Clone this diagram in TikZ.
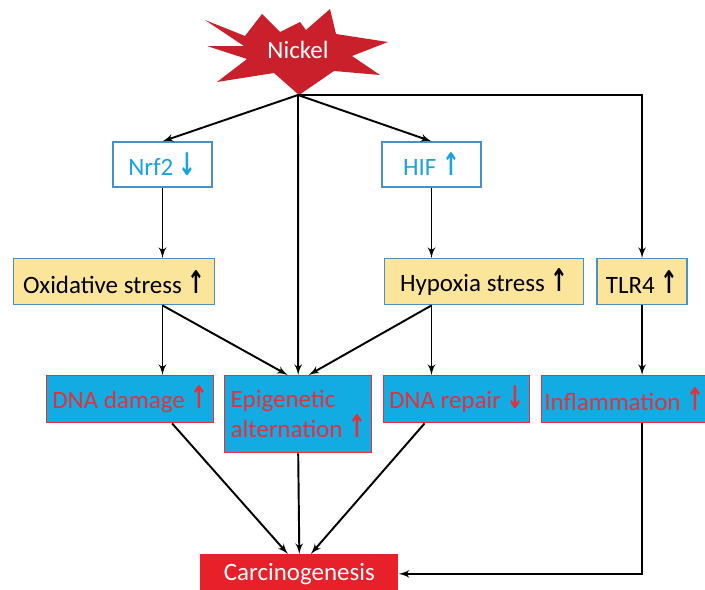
\documentclass[tikz,border=0pt]{standalone}
\usepackage{fontspec}
\setmainfont{Carlito}
\newfontfamily\symfont{DejaVu Sans}
\usepackage{xcolor}
\usetikzlibrary{arrows, positioning, calc}

\definecolor{nickelred}{HTML}{C9202B}
\definecolor{boxblue}{HTML}{4A8FC6}
\definecolor{signalcyan}{HTML}{1BA3DE}
\definecolor{stressyellow}{HTML}{FBE59B}
\definecolor{effectfill}{HTML}{12ACE3}
\definecolor{effectred}{HTML}{E5303A}
\definecolor{carcred}{HTML}{E8202A}

\newcommand{\uparr}{{\symfont\bfseries\scalebox{0.85}[1.25]{↑}}}
\newcommand{\downarr}{{\symfont\bfseries\scalebox{0.85}[1.25]{↓}}}

\begin{document}
\begin{tikzpicture}[x=0.02cm, y=-0.02cm, font=\fontsize{14.2}{17}\selectfont]
\tikzstyle{signal} = [rectangle, draw=boxblue, fill=white, text=signalcyan, minimum width=1.98cm, minimum height=0.9cm, inner sep=0pt, line width=0.8pt]
\tikzstyle{stressbox} = [rectangle, draw=boxblue, fill=stressyellow, text=black, minimum height=0.92cm, inner sep=0pt, line width=0.8pt]
\tikzstyle{effect} = [rectangle, draw=effectred, fill=effectfill, text=effectred, minimum height=0.94cm, inner sep=0pt, line width=0.8pt]
\tikzstyle{outcome} = [rectangle, fill=carcred, text=white, minimum width=3.96cm, minimum height=0.78cm, inner sep=0pt]
\tikzstyle{line} = [draw, -latex', line width=1.1pt, black]

\useasboundingbox (0,0) rectangle (705,589);

% nickel burst
\fill[nickelred] (205,20) -- (245,36) -- (262,14) -- (280,32) -- (300,22) -- (306,30)
  -- (330,9) -- (336,34) -- (388,42) -- (352,56) -- (380,75) -- (334,71)
  -- (299,95) -- (274,73) -- (217,82) -- (247,59) -- (207,46) -- (244,46) -- cycle;
\node (nickel) [text=white] at (298,50) {Nickel};
\coordinate (hub) at (298,95);

\node (nrf2) [signal] at (162.5,164.5) {Nrf2 \downarr};
\node (hif) [signal] at (431.5,164.5) {HIF \uparr};

\node (oxstress) [stressbox, minimum width=4.02cm, anchor=north west] at (13,258) {Oxidative stress \uparr};
\node (hypoxia) [stressbox, minimum width=3.98cm, anchor=north west] at (384,258) {Hypoxia stress \uparr};
\node (tlr4) [stressbox, minimum width=1.8cm, right=0.24cm of hypoxia] {TLR4 \uparr};

\node (dnadmg) [effect, minimum width=3.34cm, anchor=north west] at (46,375) {DNA damage \uparr};
\node (epi) [effect, minimum width=2.94cm, minimum height=1.54cm, anchor=north west, align=left] at (224,375) {Epigenetic\\alternation \uparr};
\node (repair) [effect, minimum width=2.92cm, anchor=north west] at (383,375) {DNA repair \downarr};
\node (inflam) [effect, minimum width=3.3cm, anchor=north west] at (541,375) {Inflammation \uparr};

\node (carc) [outcome, anchor=north west] at (200,554) {Carcinogenesis};

\draw [line] (hub) -- (nrf2.north);
\draw [line] (hub) -- (hif.north);
\draw [line] (hub) -- (epi.north);
\draw [line] (hub) -| (tlr4.north);
\draw [line] (nrf2.south) -- (nrf2.south |- oxstress.north);
\draw [line] (hif.south) -- (hif.south |- hypoxia.north);
\draw [line] (nrf2.south |- oxstress.south) -- (nrf2.south |- dnadmg.north);
\draw [line] (nrf2.south |- oxstress.south) -- (epi.105);
\draw [line] (hif.south |- hypoxia.south) -- (epi.75);
\draw [line] (hif.south |- hypoxia.south) -- (hif.south |- repair.north);
\draw [line] (tlr4.south) -- (tlr4.south |- inflam.north);
\draw [line] (dnadmg.-30) -- (carc.120);
\draw [line] (epi.south) -- (carc.north);
\draw [line] (repair.-143) -- (carc.60);
\draw [line] (tlr4.south |- inflam.south) |- (carc.east);
\end{tikzpicture}
\end{document}
